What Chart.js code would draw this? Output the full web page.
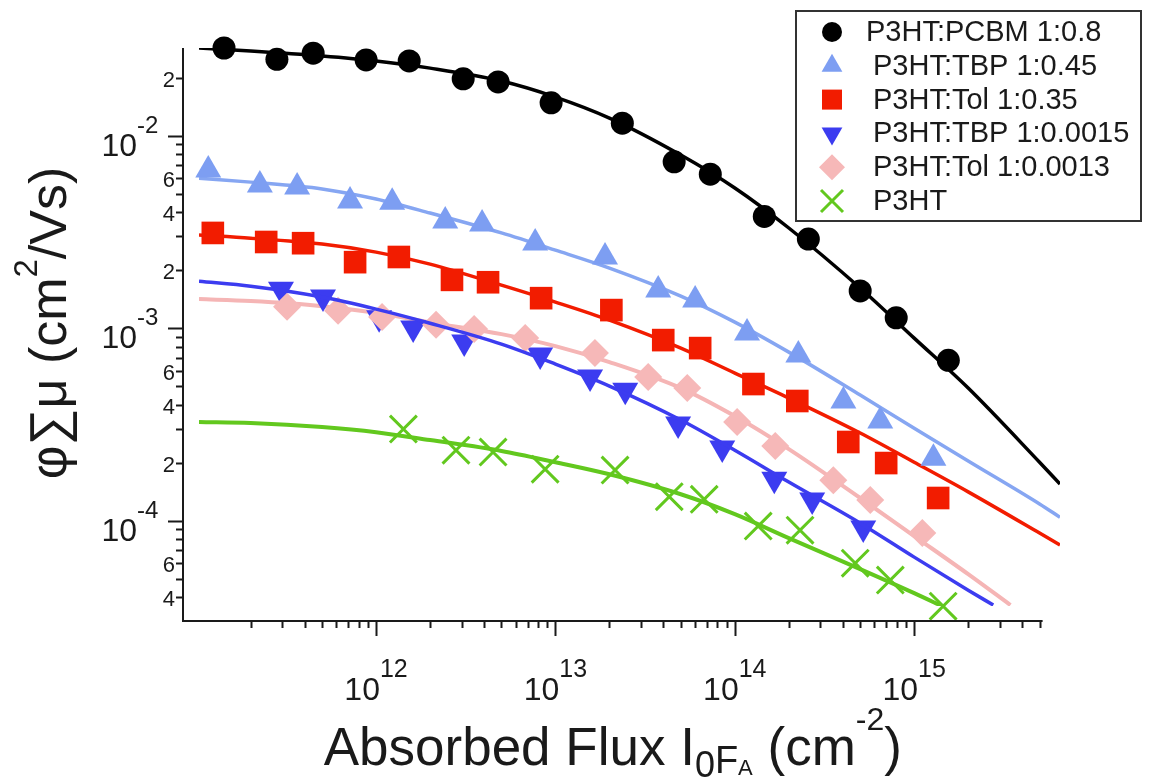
<!DOCTYPE html>
<html lang="en">
<head>
<meta charset="utf-8">
<title>φΣμ vs absorbed flux</title>
<script src="https://cdn.jsdelivr.net/npm/chart.js"></script>
<style>
    html, body { margin: 0; padding: 0; background: #fff; }
    #wrap { width: 1149px; height: 780px; }
</style>
</head>
<body>
<div id="wrap"><canvas id="fluxChart" width="1149" height="780"></canvas></div>
<script>
// ---- values (x: absorbed flux in cm^-2, y: phi*sum(mu) in cm2/Vs) ----

// fit curves
const fitX = [1.03e11, 2e11, 5e11, 1e12, 2e12, 5e12, 1e13, 2e13, 5e13, 1e14, 2e14, 5e14, 1e15, 2e15, 5e15, 6.5e15];
const fitPcbm = [0.0285, 0.0275, 0.0259, 0.0244, 0.0224, 0.0192, 0.01585, 0.01233, 0.00792, 0.00534, 0.00331, 0.001614, 0.000887, 0.000488, 0.000201, 0.000155];
const fitTbpHigh = [0.00601, 0.00573, 0.00528, 0.00468, 0.00396, 0.00312, 0.00254, 0.00205, 0.001466, 0.001074, 0.00075, 0.000449, 0.000302, 0.000204, 0.000122, 0.000104];
const fitTolHigh = [0.00304, 0.00293, 0.00273, 0.00248, 0.00215, 0.00167, 0.001365, 0.0011, 0.000787, 0.000584, 0.000433, 0.000285, 0.000201, 0.000141, 0.0000861, 0.0000746];

const fitTbpLowX = [1.03e11, 2e11, 5e11, 1e12, 2e12, 5e12, 1e13, 2e13, 5e13, 1e14, 2e14, 5e14, 1e15, 2e15, 2.76e15];
const fitTbpLow = [0.00175, 0.00165, 0.00145, 0.001255, 0.00106, 0.000826, 0.00065, 0.0005, 0.000333, 0.000232, 0.0001585, 0.000097, 0.0000646, 0.0000435, 0.0000364];

const fitTolLowX = [1.03e11, 2e11, 5e11, 1e12, 2e12, 5e12, 1e13, 2e13, 5e13, 1e14, 2e14, 5e14, 1e15, 2e15, 3.44e15];
const fitTolLow = [0.001414, 0.001381, 0.0013, 0.0012, 0.00107, 0.00093, 0.000806, 0.000666, 0.000488, 0.000349, 0.000235, 0.000131, 0.0000831, 0.0000527, 0.0000364];

const fitP3htX = [1.03e11, 2e11, 5e11, 1e12, 2e12, 5e12, 1e13, 2e13, 5e13, 1e14, 2e14, 5e14, 1e15, 1.47e15];
const fitP3ht = [0.000325, 0.000321, 0.000306, 0.000288, 0.000262, 0.00023, 0.000201, 0.000174, 0.000137, 0.000108, 0.0000811, 0.000056, 0.000042, 0.0000355];

// measured points
const pcbmX = [1.42e11, 2.8e11, 4.46e11, 8.8e11, 1.53e12, 3.06e12, 4.79e12, 9.46e12, 2.36e13, 4.59e13, 7.3e13, 1.46e14, 2.57e14, 5.0e14, 7.94e14, 1.55e15];
const pcbmY = [0.0285, 0.0249, 0.0268, 0.0247, 0.0244, 0.0197, 0.0190, 0.0148, 0.0116, 0.0073, 0.0063, 0.0038, 0.0029, 0.00156, 0.00113, 0.00068];

const tbpHighX = [1.16e11, 2.25e11, 3.63e11, 7.16e11, 1.23e12, 2.43e12, 3.9e12, 7.71e12, 1.89e13, 3.74e13, 6.01e13, 1.17e14, 2.26e14, 4.03e14, 6.47e14, 1.28e15];
const tbpHighY = [0.00662, 0.00553, 0.0054, 0.00457, 0.00451, 0.0036, 0.00347, 0.00277, 0.00234, 0.001575, 0.0014, 0.000942, 0.000724, 0.000418, 0.000329, 0.000211];

const tolHighX = [1.23e11, 2.44e11, 3.92e11, 7.64e11, 1.34e12, 2.65e12, 4.21e12, 8.32e12, 2.05e13, 3.99e13, 6.41e13, 1.27e14, 2.23e14, 4.29e14, 6.98e14, 1.36e15];
const tolHighY = [0.00312, 0.0028, 0.00276, 0.0022, 0.00234, 0.00178, 0.00173, 0.00143, 0.00124, 0.000866, 0.000787, 0.000512, 0.000418, 0.000256, 0.000199, 0.000131];

const tbpLowX = [2.95e11, 5.06e11, 1.04e12, 1.61e12, 3.1e12, 8.22e12, 1.56e13, 2.45e13, 4.83e13, 8.51e13, 1.66e14, 2.7e14, 5.2e14];
const tbpLowY = [0.00159, 0.00145, 0.00113, 0.001, 0.000846, 0.000724, 0.000557, 0.000476, 0.000317, 0.000238, 0.000164, 0.000128, 0.0000914];

const tolLowX = [3.19e11, 6.14e11, 1.08e12, 2.16e12, 3.52e12, 6.78e12, 1.66e13, 3.29e13, 5.43e13, 1.03e14, 1.68e14, 3.54e14, 5.69e14, 1.11e15];
const tolLowY = [0.00129, 0.00123, 0.00114, 0.00104, 0.000988, 0.000887, 0.000742, 0.000557, 0.000488, 0.000325, 0.000244, 0.000162, 0.000128, 0.0000861];

const p3htX = [1.42e12, 2.79e12, 4.49e12, 8.76e12, 2.15e13, 4.31e13, 6.75e13, 1.35e14, 2.31e14, 4.69e14, 7.36e14, 1.45e15];
const p3htY = [0.000299, 0.000232, 0.000227, 0.000185, 0.000183, 0.000133, 0.000129, 0.0000936, 0.0000892, 0.0000601, 0.0000491, 0.0000359];

// axis ranges and tick labels
const X_MIN = 1.03e11, X_MAX = 6.5e15, X_AXIS_END = 5.2e15;
const Y_MIN = 3.6e-5, Y_MAX = 0.0285;
const xMajorTicks = [1e12, 1e13, 1e14, 1e15];
const xMajorExp = ['12', '13', '14', '15'];
const yMajorTicks = [1e-2, 1e-3, 1e-4];
const yMajorExp = ['-2', '-3', '-4'];
const yMinorLabelTicks = [2e-2, 6e-3, 4e-3, 2e-3, 6e-4, 4e-4, 2e-4, 6e-5, 4e-5];
const yMinorLabels = ['2', '6', '4', '2', '6', '4', '2', '6', '4'];

const legendNames = ['P3HT:PCBM 1:0.8', 'P3HT:TBP 1:0.45', 'P3HT:Tol 1:0.35', 'P3HT:TBP 1:0.0015', 'P3HT:Tol 1:0.0013', 'P3HT'];

// ---- styling ----
const FONT = '"Liberation Sans", Arial, Helvetica, sans-serif';
const INK = '#1a1a1a';
const C_BLACK = '#000000';
const C_LBLUE = '#7d9ef2';
const C_RED = '#f21c00';
const C_DBLUE = '#3c3cf0';
const C_PINK = '#f6b8b8';
const C_GREEN = '#62c81e';

const legendStyles = [
    { shape: 'circle', color: C_BLACK, r: 10 },
    { shape: 'triUp', color: C_LBLUE, r: 12 },
    { shape: 'square', color: C_RED, r: 10 },
    { shape: 'triDown', color: C_DBLUE, r: 12 },
    { shape: 'diamond', color: C_PINK, r: 13 },
    { shape: 'cross', color: C_GREEN, r: 11 }
];

function pts(xs, ys) {
    return xs.map((x, i) => ({ x: x, y: ys[i] }));
}

function fitLine(xs, ys, color, width, order) {
    return {
        data: pts(xs, ys),
        borderColor: color,
        borderWidth: width,
        pointRadius: 0,
        cubicInterpolationMode: 'monotone',
        fill: false,
        order: order
    };
}

function markers(xs, ys, style, color, radius, rotation, order) {
    const hollow = style === 'crossRot';
    return {
        data: pts(xs, ys),
        showLine: false,
        pointStyle: style,
        pointRotation: rotation,
        pointRadius: radius,
        pointBackgroundColor: color,
        pointBorderColor: color,
        pointBorderWidth: hollow ? 3 : 0,
        clip: false,
        order: order
    };
}

/**
 * draw a legend symbol by hand
 */
function drawSymbol(ctx, s, x, y) {
    const r = s.r;
    ctx.save();
    ctx.fillStyle = s.color;
    ctx.strokeStyle = s.color;
    ctx.beginPath();
    if (s.shape === 'circle') {
        ctx.arc(x, y, r, 0, Math.PI * 2);
        ctx.fill();
    } else if (s.shape === 'triUp' || s.shape === 'triDown') {
        const d = s.shape === 'triUp' ? 1 : -1;
        ctx.moveTo(x, y - d * r);
        ctx.lineTo(x + r * 0.866, y + d * r / 2);
        ctx.lineTo(x - r * 0.866, y + d * r / 2);
        ctx.closePath();
        ctx.fill();
    } else if (s.shape === 'square') {
        ctx.rect(x - r, y - r, 2 * r, 2 * r);
        ctx.fill();
    } else if (s.shape === 'diamond') {
        ctx.moveTo(x, y - r);
        ctx.lineTo(x + r, y);
        ctx.lineTo(x, y + r);
        ctx.lineTo(x - r, y);
        ctx.closePath();
        ctx.fill();
    } else if (s.shape === 'cross') {
        ctx.lineWidth = 3;
        ctx.moveTo(x - r, y - r); ctx.lineTo(x + r, y + r);
        ctx.moveTo(x + r, y - r); ctx.lineTo(x - r, y + r);
        ctx.stroke();
    }
    ctx.restore();
}

/**
 * draw a sequence of text pieces along a baseline, each piece can be shifted / resized
 */
function drawPieces(ctx, pieces, startX, baseY) {
    let x = startX;
    pieces.forEach(p => {
        ctx.font = p.size + 'px ' + FONT;
        ctx.fillText(p.t, x, baseY + (p.dy || 0));
        x += ctx.measureText(p.t).width;
    });
}

function piecesWidth(ctx, pieces) {
    let w = 0;
    pieces.forEach(p => {
        ctx.font = p.size + 'px ' + FONT;
        w += ctx.measureText(p.t).width;
    });
    return w;
}

// axes, ticks, labels, titles and legend in the Igor look
const igorAxes = {
    id: 'igorAxes',
    afterDraw(chart) {
        const ctx = chart.ctx;
        const area = chart.chartArea;
        const xs = chart.scales.x;
        const ys = chart.scales.y;
        const axisX = area.left - 16;   // y axis drawn with a standoff
        const axisY = area.bottom + 15; // x axis drawn with a standoff
        const xEnd = xs.getPixelForValue(X_AXIS_END);

        ctx.save();
        ctx.strokeStyle = INK;
        ctx.lineWidth = 2;
        ctx.beginPath();
        ctx.moveTo(axisX, area.top);
        ctx.lineTo(axisX, axisY);
        ctx.lineTo(xEnd, axisY);
        ctx.stroke();

        // tick marks
        ctx.beginPath();
        for (let e = -5; e <= -1; e++) {
            for (let m = 1; m <= 9; m++) {
                const v = m * Math.pow(10, e);
                if (v < Y_MIN || v > Y_MAX) continue;
                const p = Math.round(ys.getPixelForValue(v)) + 0.5;
                const len = m === 1 ? 15 : 7;
                ctx.moveTo(axisX - len, p);
                ctx.lineTo(axisX, p);
            }
        }
        for (let e = 11; e <= 15; e++) {
            for (let m = 1; m <= 9; m++) {
                const v = m * Math.pow(10, e);
                if (v < X_MIN || v > X_AXIS_END) continue;
                const p = Math.round(xs.getPixelForValue(v)) + 0.5;
                const len = m === 1 ? 15 : 7;
                ctx.moveTo(p, axisY);
                ctx.lineTo(p, axisY + len);
            }
        }
        ctx.stroke();

        ctx.fillStyle = INK;
        ctx.textBaseline = 'alphabetic';

        // y tick labels
        yMajorTicks.forEach((v, i) => {
            const p = ys.getPixelForValue(v);
            ctx.font = '32px ' + FONT;
            ctx.textAlign = 'right';
            ctx.fillText('10', 137, p + 20);
            ctx.font = '24px ' + FONT;
            ctx.textAlign = 'left';
            ctx.fillText(yMajorExp[i], 137, p - 3);
        });
        ctx.font = '22px ' + FONT;
        ctx.textAlign = 'right';
        yMinorLabelTicks.forEach((v, i) => {
            const p = ys.getPixelForValue(v);
            ctx.fillText(yMinorLabels[i], 175, p + 9);
        });

        // x tick labels
        ctx.textAlign = 'left';
        xMajorTicks.forEach((v, i) => {
            const p = xs.getPixelForValue(v);
            const pieces = [{ t: '10', size: 32 }, { t: xMajorExp[i], size: 25, dy: -23 }];
            const w = piecesWidth(ctx, pieces);
            drawPieces(ctx, pieces, p - w / 2, 700);
        });

        // x title
        const xTitle = [
            { t: 'Absorbed Flux I', size: 53 },
            { t: '0', size: 36, dy: 12 },
            { t: 'F', size: 38, dy: 8 },
            { t: 'A', size: 22, dy: 10 },
            { t: ' (cm', size: 53 },
            { t: '-2', size: 32, dy: -35 },
            { t: ')', size: 53 }
        ];
        const xtw = piecesWidth(ctx, xTitle);
        drawPieces(ctx, xTitle, (axisX + xEnd) / 2 - xtw / 2, 765);

        // y title (rotated)
        const yTitle = [
            { t: 'φ∑μ (cm', size: 52 },
            { t: '2', size: 33, dy: -29 },
            { t: '/Vs)', size: 52 }
        ];
        const ytw = piecesWidth(ctx, yTitle);
        ctx.save();
        ctx.translate(66, 323);
        ctx.rotate(-Math.PI / 2);
        drawPieces(ctx, yTitle, -ytw / 2, 0);
        ctx.restore();

        // legend box
        ctx.fillStyle = '#fff';
        ctx.fillRect(796, 11, 345, 210);
        ctx.strokeStyle = '#333';
        ctx.lineWidth = 2;
        ctx.strokeRect(796, 11, 345, 210);
        ctx.font = '29px ' + FONT;
        ctx.fillStyle = INK;
        ctx.textBaseline = 'middle';
        ctx.textAlign = 'left';
        legendNames.forEach((name, i) => {
            const y = 32 + i * 33.8;
            drawSymbol(ctx, legendStyles[i], 832, y);
            ctx.fillText(name, i === 0 ? 866 : 873, y + 1);
        });
        ctx.restore();
    }
};

new Chart(document.getElementById('fluxChart'), {
    type: 'line',
    data: {
        datasets: [
            markers(pcbmX, pcbmY, 'circle', C_BLACK, 11.5, 0, 1),
            fitLine(fitX, fitPcbm, C_BLACK, 3.5, 2),
            markers(tbpHighX, tbpHighY, 'triangle', C_LBLUE, 15, 0, 3),
            fitLine(fitX, fitTbpHigh, '#86a6f2', 3.5, 4),
            markers(tolHighX, tolHighY, 'rect', C_RED, 16, 0, 5),
            fitLine(fitX, fitTolHigh, C_RED, 3.5, 6),
            fitLine(fitTbpLowX, fitTbpLow, C_DBLUE, 3.5, 7),
            markers(tolLowX, tolLowY, 'rectRot', C_PINK, 14, 0, 8),
            markers(tbpLowX, tbpLowY, 'triangle', C_DBLUE, 15, 180, 9),
            fitLine(fitTolLowX, fitTolLow, '#f5b5b5', 4, 10),
            markers(p3htX, p3htY, 'crossRot', C_GREEN, 19, 0, 11),
            fitLine(fitP3htX, fitP3ht, C_GREEN, 4, 12)
        ]
    },
    options: {
        responsive: false,
        animation: false,
        devicePixelRatio: 1,
        layout: { padding: { left: 199, right: 89, top: 48, bottom: 174 } },
        plugins: {
            legend: { display: false },
            tooltip: { enabled: false }
        },
        scales: {
            x: { type: 'logarithmic', display: false, min: X_MIN, max: X_MAX },
            y: { type: 'logarithmic', display: false, min: Y_MIN, max: Y_MAX }
        }
    },
    plugins: [igorAxes]
});
</script>
</body>
</html>
